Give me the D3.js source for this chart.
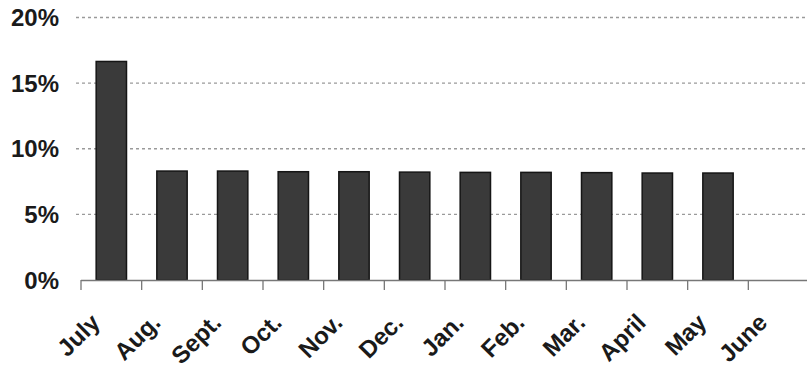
<!DOCTYPE html>
<html>
<head>
<meta charset="utf-8">
<script src="https://cdn.jsdelivr.net/npm/d3@7/dist/d3.min.js"></script>
<style>
  html, body { margin: 0; padding: 0; background: #fff; }
  svg { display: block; }
  text { font-family: "Liberation Sans", Arial, sans-serif; font-weight: bold; fill: #1a1a1a; }
</style>
</head>
<body>
<svg id="chart" width="807" height="371"></svg>
<script>
// Monthly share of the annual total (percent)
const months = ["July", "Aug.", "Sept.", "Oct.", "Nov.", "Dec.", "Jan.", "Feb.", "Mar.", "April", "May", "June"];
const shares = [16.65, 8.3, 8.3, 8.25, 8.25, 8.22, 8.2, 8.2, 8.18, 8.15, 8.15, 0];
const yTicks = [0, 5, 10, 15, 20];
const yTickLabels = ["0%", "5%", "10%", "15%", "20%"];

const svg = d3.select("#chart");
const baseY = 280;

const x = d3.scaleBand()
  .domain(months)
  .range([81, 809])
  .paddingInner(0.5)
  .paddingOuter(0.25);

const y = d3.scaleLinear()
  .domain([0, 20])
  .range([baseY, 17.5]);

// Dashed horizontal gridlines
svg.append("g")
  .selectAll("line")
  .data(yTicks.filter(d => d > 0))
  .join("line")
  .attr("x1", 76)
  .attr("x2", 807)
  .attr("y1", d => y(d))
  .attr("y2", d => y(d))
  .attr("stroke", "#9a9a9a")
  .attr("stroke-width", 1.4)
  .attr("stroke-dasharray", "3,3");

// Y-axis labels
svg.append("g")
  .selectAll("text")
  .data(yTicks)
  .join("text")
  .attr("x", 59)
  .attr("y", d => y(d))
  .attr("dy", "0.36em")
  .attr("text-anchor", "end")
  .attr("font-size", 24)
  .text((d, i) => yTickLabels[i]);

// Bars
svg.append("g")
  .selectAll("rect")
  .data(months.map((m, i) => ({ m, v: shares[i] })).filter(d => d.v > 0))
  .join("rect")
  .attr("x", d => x(d.m))
  .attr("y", d => y(d.v))
  .attr("width", x.bandwidth())
  .attr("height", d => y(0) - y(d.v))
  .attr("fill", "#3a3a3a")
  .attr("stroke", "#151515")
  .attr("stroke-width", 1.5);

// Category axis: baseline with ticks at band boundaries
const gap = (x.step() - x.bandwidth()) / 2;
const boundaries = months.map(m => x(m) - gap);
const axis = svg.append("g");
axis.append("line")
  .attr("x1", x.range()[0])
  .attr("x2", 807)
  .attr("y1", baseY + 0.5)
  .attr("y2", baseY + 0.5)
  .attr("stroke", "#777")
  .attr("stroke-width", 1.3);
axis.selectAll("line.tick")
  .data(boundaries)
  .join("line")
  .attr("class", "tick")
  .attr("x1", d => d)
  .attr("x2", d => d)
  .attr("y1", baseY)
  .attr("y2", baseY + 10)
  .attr("stroke", "#777")
  .attr("stroke-width", 1.3);

// Rotated month labels
axis.selectAll("text")
  .data(months)
  .join("text")
  .attr("font-size", 24)
  .attr("text-anchor", "end")
  .attr("transform", d => `translate(${x(d) + x.bandwidth() / 2 - 10},${baseY + 44}) rotate(-45)`)
  .text(d => d);
</script>
</body>
</html>
